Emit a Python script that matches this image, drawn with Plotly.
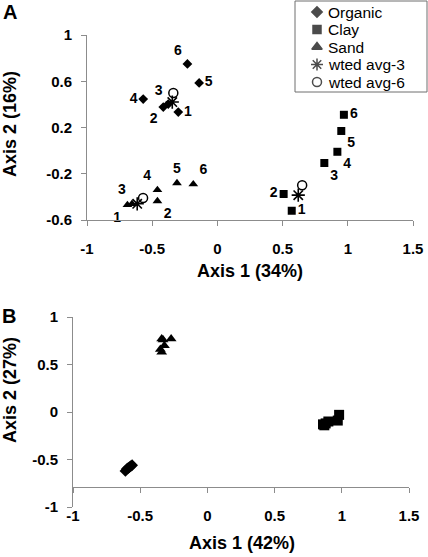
import plotly.graph_objects as go

W, H = 428, 557
FONT = "Liberation Sans, Arial, sans-serif"

# ---------------- Panel A data ----------------
labels_a = ["1", "2", "3", "4", "5", "6"]
organic_a_x = [-0.30, -0.415, -0.377, -0.569, -0.14, -0.23]
organic_a_y = [0.334, 0.377, 0.403, 0.446, 0.585, 0.75]
clay_a_x = [0.57, 0.508, 0.82, 0.92, 0.95, 0.97]
clay_a_y = [-0.52, -0.375, -0.107, -0.01, 0.17, 0.31]
sand_a_x = [-0.69, -0.46, -0.655, -0.46, -0.31, -0.185]
sand_a_y = [-0.47, -0.436, -0.46, -0.34, -0.28, -0.29]
wavg3_a_x = [-0.346, 0.62, -0.615]
wavg3_a_y = [0.420, -0.385, -0.46]
wavg6_a_x = [-0.338, 0.65, -0.57]
wavg6_a_y = [0.498, -0.30, -0.41]

organic_a_pos = ["middle right", "bottom left", "top left", "middle left", "middle right", "top left"]
clay_a_pos = ["middle right", "middle left", "bottom right", "bottom right", "bottom right", "middle right"]
sand_a_pos = ["bottom left", "bottom right", "top left", "top left", "top center", "top right"]

# ---------------- Panel B data ----------------
organic_b_x = [-0.61, -0.60, -0.58, -0.57, -0.56, -0.59]
organic_b_y = [-0.62, -0.60, -0.58, -0.57, -0.56, -0.59]
clay_b_x = [0.86, 0.88, 0.90, 0.97, 0.98, 0.87]
clay_b_y = [-0.13, -0.12, -0.10, -0.09, -0.03, -0.14]
sand_b_x = [-0.34, -0.33, -0.27, -0.32, -0.34, -0.35]
sand_b_y = [0.77, 0.76, 0.77, 0.70, 0.63, 0.66]

# ---------------- Ticks ----------------
x_ticks = [-1, -0.5, 0, 0.5, 1, 1.5]
x_ticktext = ["-1", "-0.5", "0", "0.5", "1", "1.5"]
ya_ticks = [-0.6, -0.2, 0.2, 0.6, 1]
ya_ticktext = ["-0.6", "-0.2", "0.2", "0.6", "1"]
yb_ticks = [-1, -0.5, 0, 0.5, 1]
yb_ticktext = ["-1", "-0.5", "0", "0.5", "1"]

legend_names = ["Organic", "Clay", "Sand", "wted avg-3", "wted avg-6"]
legend_symbols = ["diamond", "square", "triangle-up", "asterisk-open", "circle-open"]


def px(x):
    return x / W


def py(y):
    return 1 - y / H


fig = go.Figure()
lbl_font = dict(family=FONT, size=14, color="black", weight="bold")

# Panel A traces
fig.add_trace(go.Scatter(x=organic_a_x, y=organic_a_y, mode="markers+text", text=labels_a,
                         textposition=organic_a_pos, textfont=lbl_font,
                         marker=dict(symbol="diamond", size=7.5, color="black"),
                         xaxis="x", yaxis="y", showlegend=False, cliponaxis=False))
fig.add_trace(go.Scatter(x=clay_a_x, y=clay_a_y, mode="markers+text", text=labels_a,
                         textposition=clay_a_pos, textfont=lbl_font,
                         marker=dict(symbol="square", size=8, color="black"),
                         xaxis="x", yaxis="y", showlegend=False, cliponaxis=False))
fig.add_trace(go.Scatter(x=sand_a_x, y=sand_a_y, mode="markers+text", text=labels_a,
                         textposition=sand_a_pos, textfont=lbl_font,
                         marker=dict(symbol="triangle-up", size=8.5, color="black"),
                         xaxis="x", yaxis="y", showlegend=False, cliponaxis=False))
fig.add_trace(go.Scatter(x=wavg3_a_x, y=wavg3_a_y, mode="markers",
                         marker=dict(symbol="asterisk-open", size=11, color="black",
                                     line=dict(width=1.6, color="black")),
                         xaxis="x", yaxis="y", showlegend=False, cliponaxis=False))
fig.add_trace(go.Scatter(x=wavg6_a_x, y=wavg6_a_y, mode="markers",
                         marker=dict(symbol="circle-open", size=9, color="black",
                                     line=dict(width=1.5, color="black")),
                         xaxis="x", yaxis="y", showlegend=False, cliponaxis=False))

# Panel B traces
fig.add_trace(go.Scatter(x=organic_b_x, y=organic_b_y, mode="markers",
                         marker=dict(symbol="diamond", size=9, color="black"),
                         xaxis="x2", yaxis="y2", showlegend=False, cliponaxis=False))
fig.add_trace(go.Scatter(x=clay_b_x, y=clay_b_y, mode="markers",
                         marker=dict(symbol="square", size=10, color="black"),
                         xaxis="x2", yaxis="y2", showlegend=False, cliponaxis=False))
fig.add_trace(go.Scatter(x=sand_b_x, y=sand_b_y, mode="markers",
                         marker=dict(symbol="triangle-up", size=9.5, color="black"),
                         xaxis="x2", yaxis="y2", showlegend=False, cliponaxis=False))

# Custom legend keys (pixel-space overlay axis)
leg_rows = [12, 29.5, 47, 64.5, 82]
leg_sizes = [8, 8, 9, 10, 9]
fig.add_trace(go.Scatter(x=[317] * 5, y=leg_rows, mode="markers",
                         marker=dict(symbol=legend_symbols, size=leg_sizes, color="black",
                                     line=dict(width=1.5, color="black")),
                         xaxis="x3", yaxis="y3", showlegend=False, hoverinfo="skip",
                         cliponaxis=False))

axis_line = "#8c8c8c"
tick_font = dict(family=FONT, size=15, color="black", weight="bold")
common_x = dict(tickmode="array", tickvals=x_ticks, ticktext=x_ticktext, range=[-1, 1.5],
                showgrid=False, zeroline=False, showline=True, linecolor=axis_line, linewidth=1,
                ticks="outside", ticklen=5, tickcolor=axis_line, tickfont=tick_font,
                fixedrange=True, automargin=False)
common_y = dict(showgrid=False, zeroline=False, showline=True, linecolor=axis_line, linewidth=1,
                ticks="outside", ticklen=5, tickcolor=axis_line, tickfont=tick_font,
                ticklabelstandoff=6, tickmode="array", fixedrange=True, automargin=False)

fig.update_layout(
    template="none",
    width=W, height=H,
    margin=dict(l=0, r=0, t=0, b=0, pad=0, autoexpand=False),
    paper_bgcolor="white", plot_bgcolor="rgba(0,0,0,0)",
    showlegend=False,
    hovermode=False,
    xaxis=dict(domain=[px(87), px(413)], anchor="y", ticklabelstandoff=10, **common_x),
    yaxis=dict(domain=[py(220), py(35)], anchor="x", range=[-0.6, 1],
               tickvals=ya_ticks, ticktext=ya_ticktext, **common_y),
    xaxis2=dict(domain=[px(73), px(409)], anchor="free", position=py(487),
                ticklabelstandoff=10, **common_x),
    yaxis2=dict(domain=[py(507), py(317)], anchor="x2", range=[-1, 1],
                tickvals=yb_ticks, ticktext=yb_ticktext, **common_y),
    xaxis3=dict(domain=[0, 1], range=[0, W], visible=False, anchor="y3", fixedrange=True,
                automargin=False),
    yaxis3=dict(domain=[0, 1], range=[H, 0], visible=False, anchor="x3", fixedrange=True,
                automargin=False),
)

# Legend box and texts
fig.add_shape(type="rect", xref="paper", yref="paper",
              x0=px(295), x1=px(427), y0=py(92), y1=py(1),
              line=dict(color="#6e6e6e", width=1), fillcolor="white", layer="below")
for name, ry in zip(legend_names, leg_rows):
    fig.add_annotation(x=px(327), y=py(ry), xref="paper", yref="paper", text=name,
                       showarrow=False, xanchor="left", yanchor="middle", borderpad=0,
                       font=dict(family=FONT, size=15.5, color="black"))

title_font = dict(family=FONT, size=18, color="black", weight="bold")
fig.add_annotation(x=px(250), y=py(271), xref="paper", yref="paper", text="Axis 1 (34%)",
                   showarrow=False, xanchor="center", yanchor="middle", font=title_font)
fig.add_annotation(x=px(10), y=py(124), xref="paper", yref="paper", text="Axis 2 (16%)",
                   showarrow=False, xanchor="center", yanchor="middle", textangle=-90, font=title_font)
fig.add_annotation(x=px(242), y=py(543), xref="paper", yref="paper", text="Axis 1 (42%)",
                   showarrow=False, xanchor="center", yanchor="middle", font=title_font)
fig.add_annotation(x=px(10), y=py(390), xref="paper", yref="paper", text="Axis 2 (27%)",
                   showarrow=False, xanchor="center", yanchor="middle", textangle=-90, font=title_font)

panel_font = dict(family=FONT, size=20, color="black", weight="bold")
fig.add_annotation(x=px(10), y=py(12), xref="paper", yref="paper", text="A",
                   showarrow=False, xanchor="center", yanchor="middle", font=panel_font)
fig.add_annotation(x=px(9), y=py(316), xref="paper", yref="paper", text="B",
                   showarrow=False, xanchor="center", yanchor="middle", font=panel_font)

fig.write_html("out.html",
               config={"displayModeBar": False, "staticPlot": True},
               post_script="document.body.style.margin='0';document.body.style.overflow='hidden';")
